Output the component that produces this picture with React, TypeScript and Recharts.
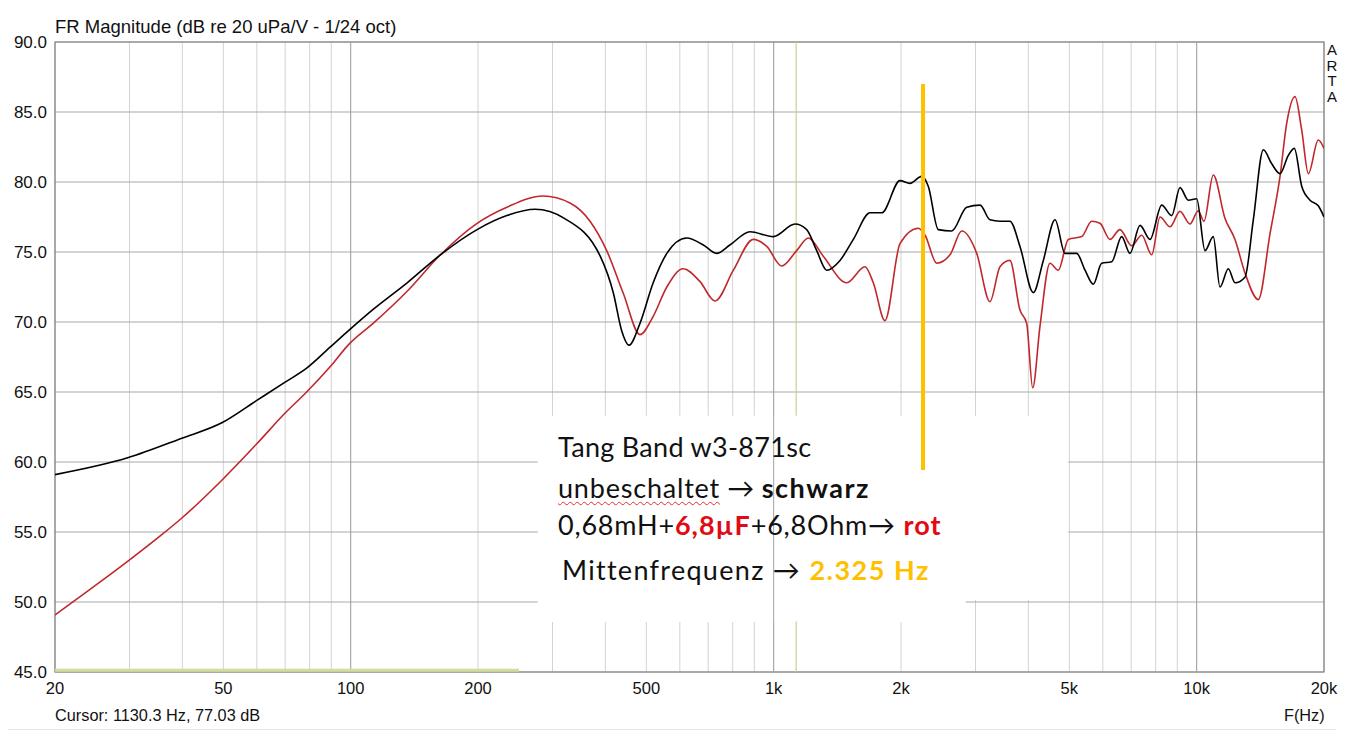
import React from 'react'
import {
  LineChart,
  Line,
  XAxis,
  YAxis,
  CartesianGrid,
  ReferenceLine,
  ReferenceArea,
} from 'recharts'

/* ------------------------------------------------------------------ */
/*  Data                                */
/* ------------------------------------------------------------------ */

// unbeschaltet -> schwarz
const BLACK_HZ = [
  20, 29.7, 39.9, 49.6, 60, 70, 78.7, 89.4, 99, 113, 136, 163, 199, 234, 273, 320, 389, 418, 437,
  455, 483, 519, 559, 623, 682, 733, 788, 879, 998, 1123, 1197, 1264, 1335, 1435, 1543, 1690, 1801,
  1989, 2100, 2238, 2320, 2450, 2636, 2860, 3076, 3246, 3428, 3618, 3822, 4110, 4340, 4626, 4884,
  5206, 5446, 5698, 5963, 6297, 6648, 6956, 7346, 7758, 8268, 8730, 9132, 9554, 10002, 10464, 10946,
  11352, 11880, 12320, 13008, 13612, 14374, 15046, 15742, 16468, 17016, 17716, 18536, 19388, 20000,
]
const BLACK_DB = [
  59.1, 60.3, 61.7, 62.8, 64.4, 65.7, 66.7, 68.2, 69.4, 70.9, 72.8, 74.8, 76.6, 77.6, 78.05, 77.4,
  74.7, 72.05, 69.4, 68.35, 69.9, 72.8, 74.9, 76.0, 75.5, 74.9, 75.5, 76.45, 76.1, 77.0, 76.6, 75.1, 73.7,
  74.4, 75.9, 77.8, 77.8, 80.1, 79.9, 80.4, 79.7, 76.6, 76.5, 78.2, 78.35, 77.3, 77.2, 77.2, 75.4, 72.1,
  74.4, 77.3, 74.9, 74.9, 73.7, 72.7, 74.2, 74.3, 76.1, 74.9, 76.9, 75.9, 78.35, 77.6, 79.6, 78.7, 78.8,
  75.1, 76.1, 72.5, 73.8, 72.8, 73.2, 77.3, 82.3, 81.3, 80.6, 81.9, 82.4, 79.7, 78.7, 78.3, 77.5,
]

// 0,68mH + 6,8uF + 6,8Ohm -> rot
const RED_HZ = [
  20, 24.2, 29.7, 35.4, 39.9, 49.6, 60, 70, 78.7, 89.4, 99, 113, 136, 163, 199, 234, 285, 330, 368, 403,
  441, 483, 519, 559, 611, 669, 727, 803, 895, 963, 1045, 1133, 1208, 1310, 1488, 1644, 1720, 1833,
  1989, 2198, 2280, 2430, 2612, 2784, 3020, 3246, 3428, 3618, 3822, 3964, 4096, 4262, 4500, 4709,
  4972, 5349, 5647, 5908, 6238, 6586, 7020, 7414, 7830, 8192, 8650, 9132, 9642, 10088, 10406, 10946,
  11668, 12320, 13008, 13988, 14906, 15742, 16326, 17080, 17716, 18366, 19388, 20000,
]
const RED_DB = [
  49.07, 50.9, 52.9, 54.7, 56.0, 58.7, 61.3, 63.5, 65.0, 66.8, 68.4, 69.9, 72.2, 74.8, 77.05, 78.2, 79.0,
  78.5, 77.2, 75.1, 72.05, 69.1, 70.4, 72.5, 73.8, 72.9, 71.5, 73.7, 75.9, 75.4, 74.0, 75.1, 76.0, 74.7,
  72.8, 73.95, 72.8, 70.1, 75.6, 76.7, 76.2, 74.2, 74.8, 76.5, 74.9, 71.45, 73.95, 74.4, 70.85, 69.9,
  65.3, 69.7, 74.2, 73.7, 75.9, 76.1, 77.2, 77.05, 75.9, 76.6, 75.45, 76.2, 74.8, 77.5, 76.8, 77.9, 77.0,
  77.95, 77.2, 80.5, 77.4, 75.9, 73.5, 71.6, 76.3, 80.4, 84.2, 86.1, 83.7, 80.6, 83.0, 82.4,
]

const GRID_HZ = [
  20, 30, 40, 50, 60, 70, 80, 90, 100, 200, 300, 400, 500, 600, 700, 800, 900, 1000, 2000, 3000, 4000,
  5000, 6000, 7000, 8000, 9000, 10000, 20000,
]
const MAJOR_HZ = [100, 1000, 10000]
const LABEL_HZ = [20, 50, 100, 200, 500, 1000, 2000, 5000, 10000, 20000]
const DB_TICKS = [45, 50, 55, 60, 65, 70, 75, 80, 85, 90]

const CURSOR_HZ = 1130.3
const CURSOR_DB = 77.03
const MARKER_HZ = 2255
const BAND_HZ = [20, 250]

/* ------------------------------------------------------------------ */

const blackData = BLACK_HZ.map((hz, i) => ({ hz, db: BLACK_DB[i] }))
const redData = RED_HZ.map((hz, i) => ({ hz, db: RED_DB[i] }))

const fmtHz = (v: number): string => {
  if (!LABEL_HZ.includes(v)) return ''
  return v >= 1000 ? `${v / 1000}k` : `${v}`
}

const ARIAL = '"Liberation Sans", Arial, sans-serif'
const NOTE_FONT = 'Lato, "Noto Sans", sans-serif'
const boldRed = { color: '#e00b14', letterSpacing: 1 }

export default function App() {
  return (
    <div
      style={{
        position: 'absolute',
        left: 0,
        top: 0,
        width: 1351,
        height: 750,
        background: '#fff',
        fontFamily: ARIAL,
      }}
    >
      <LineChart width={1351} height={750} margin={{ top: 42, right: 27, bottom: 48, left: 5 }}>
        <CartesianGrid horizontal={false} stroke="#d3d3d3" />
        <CartesianGrid vertical={false} stroke="#a9a9a9" />

        <XAxis
          dataKey="hz"
          type="number"
          scale="log"
          domain={[20, 20000]}
          ticks={GRID_HZ}
          tickFormatter={fmtHz}
          allowDataOverflow
          interval={0}
          tickLine={false}
          axisLine={false}
          height={30}
          tickMargin={4}
          tick={{ fill: '#111', fontSize: 16.5, fontFamily: ARIAL }}
        />
        <YAxis
          type="number"
          domain={[45, 90]}
          ticks={DB_TICKS}
          tickFormatter={(v: number) => v.toFixed(1)}
          allowDataOverflow
          interval={0}
          tickLine={false}
          axisLine={false}
          width={50}
          tick={{ fill: '#111', fontSize: 17, fontFamily: ARIAL }}
        />

        {MAJOR_HZ.map((hz) => (
          <ReferenceLine key={hz} x={hz} stroke="#a3a3a3" strokeWidth={1} />
        ))}

        {/* cursor line, hidden behind the note box */}
        <ReferenceLine
          segment={[
            { x: CURSOR_HZ, y: 90 },
            { x: CURSOR_HZ, y: 63.3 },
          ]}
          stroke="#cfcf8a"
          strokeWidth={1.2}
        />
        <ReferenceLine
          segment={[
            { x: CURSOR_HZ, y: 48.6 },
            { x: CURSOR_HZ, y: 45 },
          ]}
          stroke="#cfcf8a"
          strokeWidth={1.2}
        />

        {/* note box */}
        <ReferenceArea x1={277} x2={4972} y1={50.14} y2={63.3} fill="#fff" fillOpacity={1} stroke="none" />
        <ReferenceArea x1={277} x2={2846} y1={48.57} y2={50.2} fill="#fff" fillOpacity={1} stroke="none" />

        <ReferenceLine
          segment={[
            { x: BAND_HZ[0], y: 45.12 },
            { x: BAND_HZ[1], y: 45.12 },
          ]}
          stroke="#d3dc98"
          strokeWidth={3}
        />

        <ReferenceArea x1={20} x2={20000} y1={45} y2={90} fill="none" stroke="#7e7e7e" strokeWidth={1.2} />

        <Line
          data={redData}
          dataKey="db"
          type="monotone"
          stroke="#c0282c"
          strokeWidth={1.6}
          dot={false}
          isAnimationActive={false}
        />
        <Line
          data={blackData}
          dataKey="db"
          type="monotone"
          stroke="#000"
          strokeWidth={1.6}
          dot={false}
          isAnimationActive={false}
        />

        <ReferenceLine
          segment={[
            { x: MARKER_HZ, y: 87 },
            { x: MARKER_HZ, y: 59.43 },
          ]}
          stroke="#ffc000"
          strokeWidth={4}
        />
      </LineChart>

      {/* ARTA chrome */}
      <div style={{ position: 'absolute', left: 55, top: 16, fontSize: 18.5, color: '#111', whiteSpace: 'nowrap' }}>
        FR Magnitude (dB re 20 uPa/V - 1/24 oct)
      </div>
      <div
        style={{
          position: 'absolute',
          left: 1325,
          top: 42,
          width: 14,
          fontSize: 15,
          lineHeight: '15.5px',
          textAlign: 'center',
          color: '#111',
        }}
      >
        {'ARTA'.split('').map((c, i) => (
          <div key={i}>{c}</div>
        ))}
      </div>
      <div style={{ position: 'absolute', left: 55, top: 706, fontSize: 16.3, color: '#111', whiteSpace: 'nowrap' }}>
        {`Cursor: ${CURSOR_HZ} Hz, ${CURSOR_DB} dB`}
      </div>
      <div style={{ position: 'absolute', left: 1284, top: 706, fontSize: 16.3, color: '#111' }}>F(Hz)</div>
      <div style={{ position: 'absolute', left: 8, top: 729, width: 1328, height: 1, background: '#e6e6e6' }} />

      {/* note */}
      <div
        style={{
          position: 'absolute',
          left: 558,
          top: 426,
          fontFamily: NOTE_FONT,
          fontSize: 27,
          lineHeight: '41px',
          color: '#111',
          whiteSpace: 'nowrap',
          letterSpacing: 0.3,
        }}
      >
        <div>Tang Band w3-871sc</div>
        <div>
          <span style={{ textDecoration: 'underline wavy #e03030 1px', textUnderlineOffset: 3, letterSpacing: 0.8 }}>
            unbeschaltet
          </span>
          {'  \u2192 '}
          <b style={{ letterSpacing: 1.5 }}>schwarz</b>
        </div>
        <div style={{ marginTop: -4, letterSpacing: 0.8 }}>
          0,68mH+<b style={boldRed}>6,8µF</b>+6,8Ohm{'\u2192 '}
          <b style={boldRed}>rot</b>
        </div>
        <div style={{ marginTop: 4, marginLeft: 4, letterSpacing: 1.3 }}>
          Mittenfrequenz {'\u2192 '}
          <b style={{ color: '#ffc000', letterSpacing: 1.5 }}>2.325 Hz</b>
        </div>
      </div>
    </div>
  )
}
